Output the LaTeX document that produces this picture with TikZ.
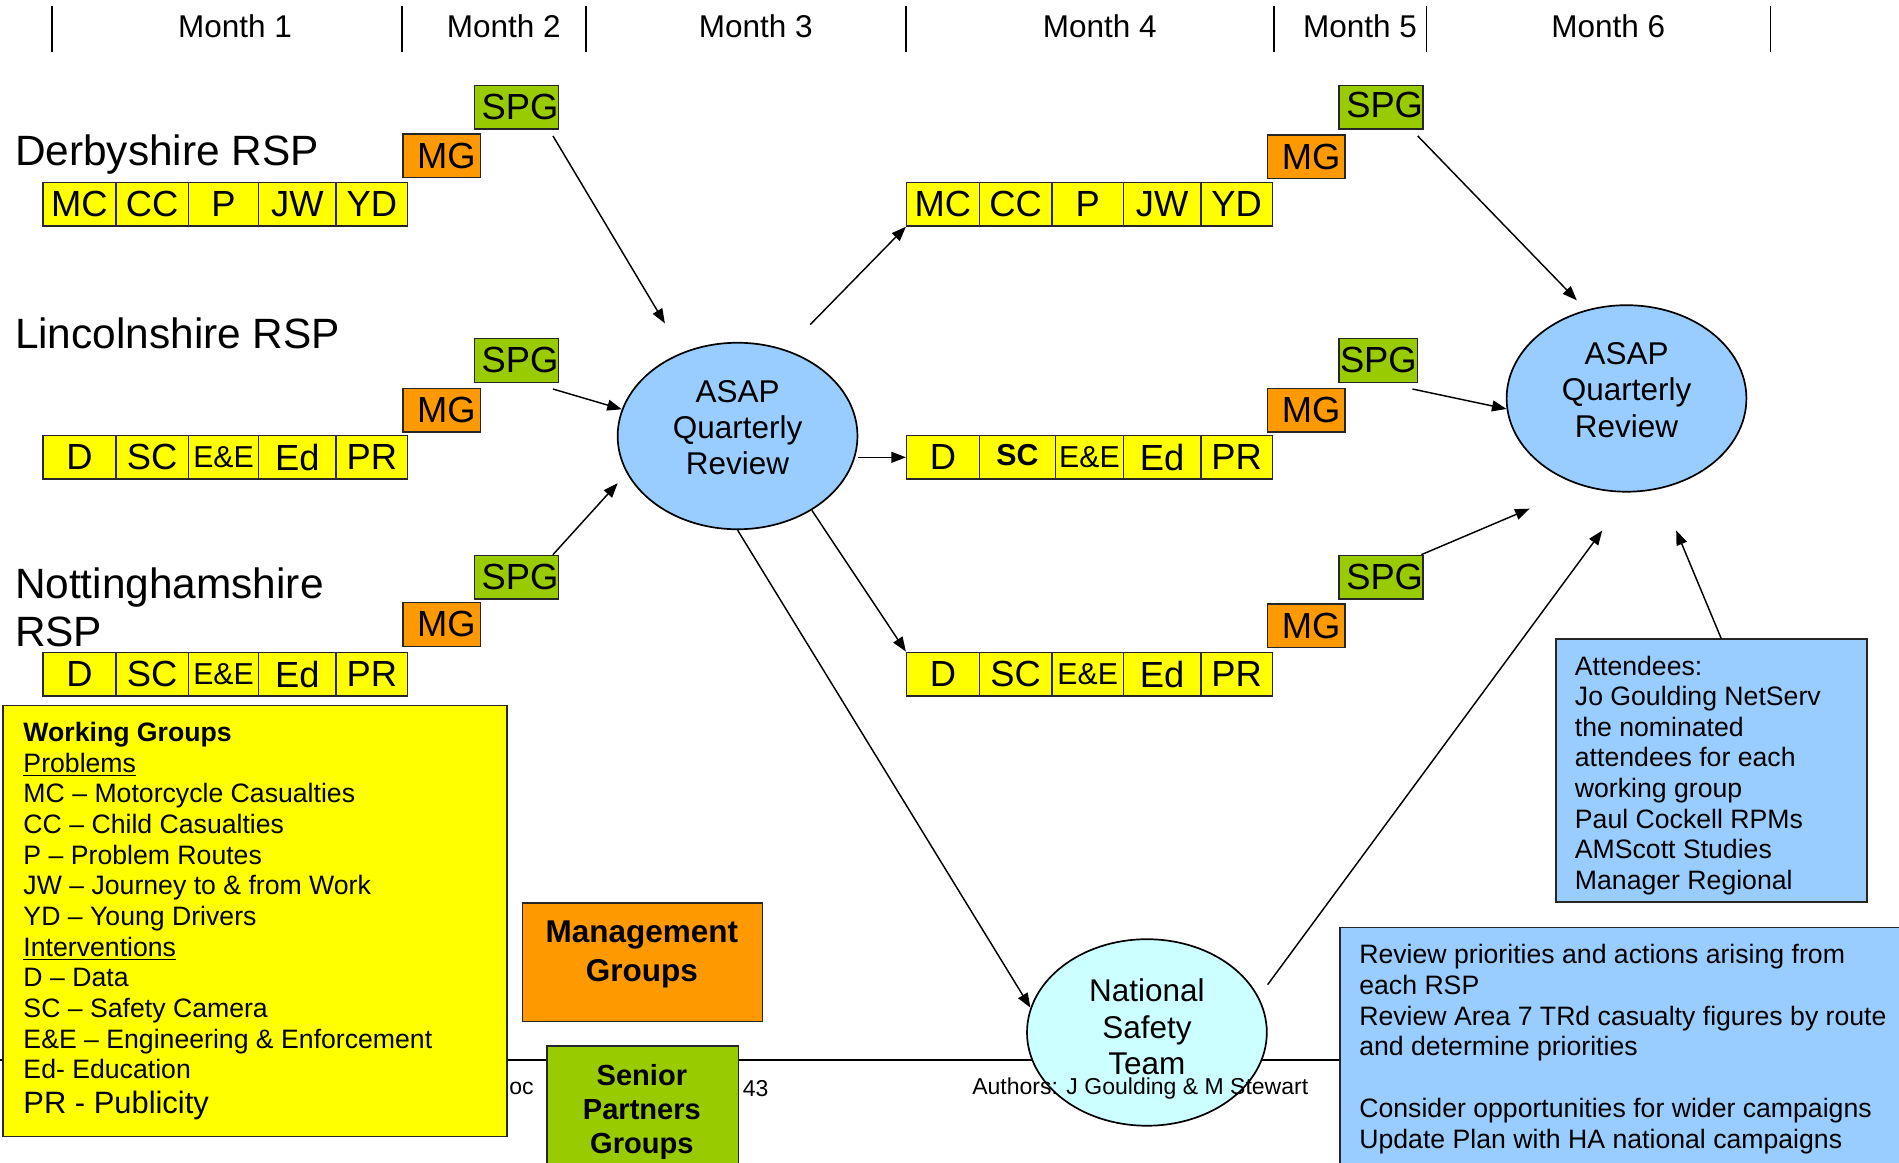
\documentclass[tikz,border=0pt]{standalone}
\usepackage{fontspec}
\setmainfont{Liberation Sans}
\usetikzlibrary{shapes.geometric,arrows.meta}
\definecolor{cyel}{HTML}{FFFF00}
\definecolor{corg}{HTML}{FF9900}
\definecolor{cgrn}{HTML}{99CC00}
\definecolor{cblu}{HTML}{99CCFF}
\definecolor{ccyn}{HTML}{CCFFFF}
\newcommand{\fsz}[2]{\fontsize{#1}{#2}\selectfont}
\begin{document}
\begin{tikzpicture}[x=0.5pt,y=-0.5pt,
  box/.style={draw=black!85,line width=0.6pt,inner sep=0pt,anchor=north west},
  cell/.style={box,fill=cyel,minimum height=18pt,font=\fsz{15}{18}},
  mgbox/.style={box,fill=corg,minimum width=32pt,minimum height=18pt,font=\fsz{15}{18}},
  spgbox/.style={box,fill=cgrn,minimum width=32.5pt,minimum height=18pt,font=\fsz{15}{18}},
  oval/.style={ellipse,draw=black,line width=0.7pt,minimum width=99pt,minimum height=77pt,inner sep=0pt},
  ovaltext/.style={inner sep=0pt,align=center,font=\fsz{13}{15}},
  arr/.style={line width=0.6pt,-{Triangle[length=6pt,width=4.5pt]}},
  tick/.style={line width=0.65pt},
  month/.style={inner sep=0pt,font=\fsz{13}{15}},
  rsp/.style={anchor=west,inner sep=0pt,font=\fsz{17.5}{19}},
  para/.style={anchor=north west,inner sep=0pt,align=left,font=\fsz{11}{12.65}},
  foot/.style={inner sep=0pt,font=\fsz{9.5}{11}},
]
\useasboundingbox (0,0) rectangle (1568,960);
\clip (0,0) rectangle (1568,960);

% month header
\foreach \x in {43,332,484,748,1052,1178,1462} \draw[tick] (\x,5) -- (\x,43);
\node[month] (m1) at (194,22) {Month 1};
\node[month] (m2) at (416,22) {Month 2};
\node[month] (m3) at (624,22) {Month 3};
\node[month] (m4) at (908,22) {Month 4};
\node[month] (m5) at (1123,22) {Month 5};
\node[month] (m6) at (1328,22) {Month 6};

% RSP labels
\node[rsp] (derby) at (12,128) {Derbyshire RSP};
\node[rsp] (lincs) at (12,275) {Lincolnshire RSP};
\node[rsp] (notts1) at (12,485) {Nottinghamshire};
\node[rsp] (notts2) at (12,522) {RSP};

% footer line and texts
\draw[line width=0.7pt] (0,875) -- (1106,875);
\node[foot,anchor=east] (fdoc) at (441,899) {oc};
\node[foot,anchor=west] (fpage) at (613,899) {43};

% Derbyshire left
\node[cell,minimum width=30pt] (dA1) at (35,150) {MC};
\node[cell,minimum width=30pt] (dA2) at (95,150) {CC};
\node[cell,minimum width=29pt] (dA3) at (155,150) {P};
\node[cell,minimum width=32pt] (dA4) at (213,150) {JW};
\node[cell,minimum width=29.5pt] (dA5) at (277,150) {YD};
\node[mgbox] (dMG1) at (332,110) {\hspace{4pt}MG};
\node[spgbox] (dSPG1) at (391,70) {\hspace{3pt}SPG};

% Lincolnshire left
\node[cell,minimum width=30pt] (lA1) at (35,359) {D};
\node[cell,minimum width=30pt] (lA2) at (95,359) {SC};
\node[cell,minimum width=29pt] (lA3) at (155,359) {\fsz{12.5}{14}E\&E};
\node[cell,minimum width=32pt] (lA4) at (213,359) {Ed};
\node[cell,minimum width=29.5pt] (lA5) at (277,359) {PR};
\node[mgbox] (lMG1) at (332,320) {\hspace{4pt}MG};
\node[spgbox] (lSPG1) at (391,279) {\hspace{3pt}SPG};

% Nottinghamshire left
\node[cell,minimum width=30pt] (nA1) at (35,538) {D};
\node[cell,minimum width=30pt] (nA2) at (95,538) {SC};
\node[cell,minimum width=29pt] (nA3) at (155,538) {\fsz{12.5}{14}E\&E};
\node[cell,minimum width=32pt] (nA4) at (213,538) {Ed};
\node[cell,minimum width=29.5pt] (nA5) at (277,538) {PR};
\node[mgbox] (nMG1) at (332,497) {\hspace{4pt}MG};
\node[spgbox] (nSPG1) at (391,458) {\hspace{3pt}SPG};

% Derbyshire right
\node[cell,minimum width=30pt] (dB1) at (748,150) {MC};
\node[cell,minimum width=30pt] (dB2) at (808,150) {CC};
\node[cell,minimum width=29.5pt] (dB3) at (868,150) {P};
\node[cell,minimum width=32pt] (dB4) at (927,150) {JW};
\node[cell,minimum width=29.5pt] (dB5) at (991,150) {YD};
\node[mgbox] (dMG2) at (1046,111) {\hspace{4pt}MG};
\node[spgbox] (dSPG2) at (1105,70) {\raisebox{2pt}{\hspace{3pt}SPG}};

% Lincolnshire right
\node[cell,minimum width=30pt] (lB1) at (748,359) {D};
\node[cell,minimum width=31.5pt] (lB2) at (808,359) {\raisebox{2pt}{\fsz{12.5}{14}\bfseries SC}};
\node[cell,minimum width=28pt] (lB3) at (871,359) {\fsz{12.5}{14}E\&E};
\node[cell,minimum width=32pt] (lB4) at (927,359) {Ed};
\node[cell,minimum width=29.5pt] (lB5) at (991,359) {PR};
\node[mgbox] (lMG2) at (1046,320) {\hspace{4pt}MG};
\node[spgbox] (lSPG2) at (1105,279) {\raisebox{-3pt}{SPG}\hspace{3pt}};

% Nottinghamshire right
\node[cell,minimum width=30pt] (nB1) at (748,538) {D};
\node[cell,minimum width=30pt] (nB2) at (808,538) {SC};
\node[cell,minimum width=29.5pt] (nB3) at (868,538) {\fsz{12.5}{14}E\&E};
\node[cell,minimum width=32pt] (nB4) at (927,538) {Ed};
\node[cell,minimum width=29.5pt] (nB5) at (991,538) {PR};
\node[mgbox] (nMG2) at (1046,498) {\hspace{4pt}MG};
\node[spgbox] (nSPG2) at (1105,458) {\hspace{3pt}SPG};

% ellipses
\node[oval,fill=cblu] (asap1) at (609,360) {};
\node[ovaltext] (asap1t) at (609,353) {ASAP\\Quarterly\\Review};
\node[oval,fill=cblu] (asap2) at (1343,329) {};
\node[ovaltext] (asap2t) at (1343,322) {ASAP\\Quarterly\\Review};
\node[oval,fill=ccyn] (nst) at (947,852.5) {};
\node[ovaltext] (nstt) at (947,848) {National\\Safety\\Team};

% Attendees box
\node[box,fill=cblu,minimum width=128.5pt,minimum height=108.5pt] (att) at (1284,527) {};
\node[para] (attT) at (1300,541) {Attendees:\\Jo Goulding NetServ\\the nominated\\attendees for each\\working group\\Paul Cockell RPMs\\AMScott Studies\\Manager Regional};

% Review box
\node[box,fill=cblu,minimum width=242pt,minimum height=107.5pt] (rev) at (1106,765) {};
\node[para,font=\fsz{11}{12.75}] (revT) at (1122,779) {Review priorities and actions arising from\\each RSP\\Review Area 7 TRd casualty figures by route\\and determine priorities\\[12.75pt]Consider opportunities for wider campaigns\\Update Plan with HA national campaigns};

% Working groups box
\node[box,fill=cyel,minimum width=208pt,minimum height=178pt] (wg) at (2,582) {};
\node[para] (wgT) at (19,596) {\textbf{Working Groups}\\\underline{Problems}\\MC – Motorcycle Casualties\\CC – Child Casualties\\P – Problem Routes\\JW – Journey to \& from Work\\YD – Young Drivers\\\underline{Interventions}\\D – Data\\SC – Safety Camera\\E\&E – Engineering \& Enforcement\\Ed- Education\\[1.85pt]{\fsz{12.75}{14}PR - Publicity}};

% Management groups
\node[box,fill=corg,minimum width=99pt,minimum height=49pt] (mgmt) at (431,745) {};
\node[inner sep=0pt,align=center,font=\fsz{13}{16}\bfseries] (mgmtT) at (530,788) {Management\\Groups};

% Senior partners groups
\node[box,fill=cgrn,minimum width=79pt,minimum height=56pt] (spg) at (451,863) {};
\node[inner sep=0pt,align=center,font=\fsz{12}{14}\bfseries] (spgT) at (530,918) {Senior\\Partners\\Groups};

% authors
\node[foot] (fauth) at (941.5,899) {Authors: J Goulding \& M Stewart};

% arrows
\coordinate (e1) at (549,267);
\coordinate (e3) at (510,399);
\coordinate (s4) at (669,268);
\coordinate (e8) at (1302,248);
\coordinate (e10) at (1263,420);
\coordinate (e11) at (1323,438);
\coordinate (e12) at (1384,438);
\draw[arr] ([xshift=-2.5pt,yshift=-2.5pt]dSPG1.south east) -- (e1);
\draw[arr] ([xshift=-2.5pt,yshift=-2.5pt]lSPG1.south east) -- (asap1.167);
\draw[arr] ([xshift=-2.5pt]nSPG1.north east) -- (e3);
\draw[arr] (s4) -- (dB1.south west);
\draw[arr] (asap1.east |- lB1.west) -- (lB1.west);
\draw[arr] (asap1.-45) -- (nB1.north west);
\draw[arr] (asap1.south) -- (nst.168);
\draw[arr] ([xshift=-2.5pt,yshift=-2.5pt]dSPG2.south east) -- (e8);
\draw[arr] ([xshift=-2.5pt,yshift=-2.5pt]lSPG2.south east) -- (asap2.185);
\draw[arr] ([xshift=-1pt]nSPG2.north east) -- (e10);
\draw[arr] ([yshift=19.75pt]nst.east) -- (e11);
\draw[arr] ([xshift=4pt]att.north) -- (e12);
\end{tikzpicture}
\end{document}
